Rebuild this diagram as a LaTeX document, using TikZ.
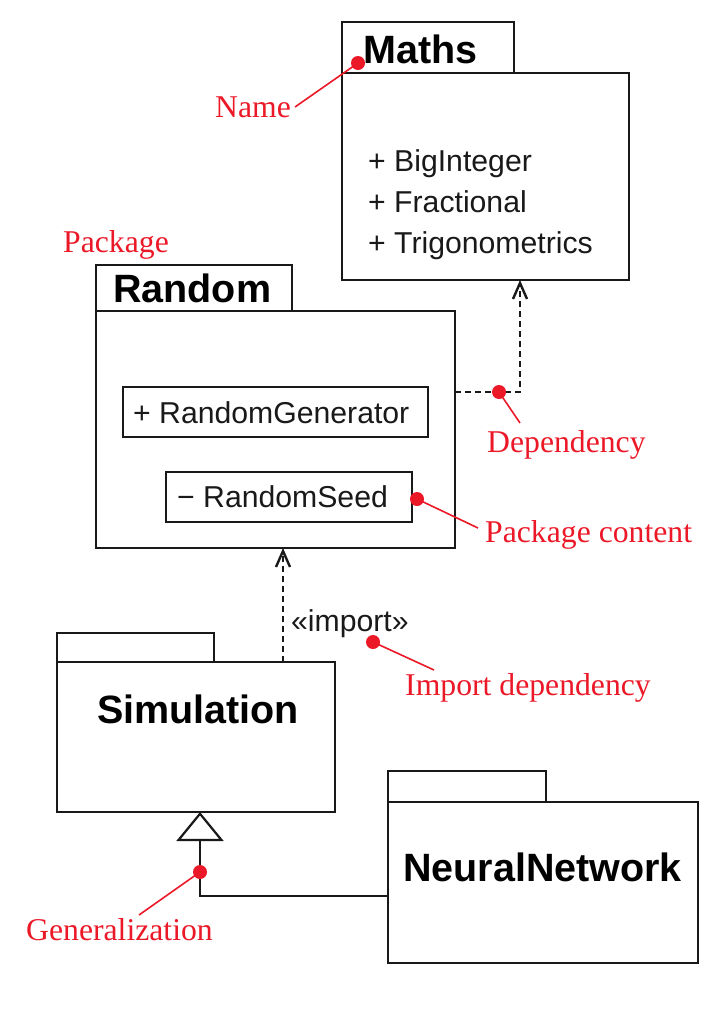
\documentclass[tikz,border=0pt]{standalone}
\usepackage{fontspec}
\setmainfont{Liberation Serif}
\setsansfont{Liberation Sans}
\usetikzlibrary{arrows.meta}
\definecolor{annot}{RGB}{235,25,40}
\definecolor{ink}{RGB}{25,25,25}
\tikzset{
  box/.style={draw=ink, line width=2.2pt, inner sep=0pt, outer sep=0pt, anchor=north west},
  title/.style={font=\sffamily\bfseries\fontsize{39.5}{41}\selectfont, inner sep=0pt, anchor=base west},
  item/.style={font=\sffamily\fontsize{30.2}{32}\selectfont, inner sep=0pt, anchor=base west, text=ink},
  note/.style={text=annot, font=\fontsize{31.7}{34}\selectfont, inner sep=0pt, anchor=base west},
  dot/.style={circle, fill=annot, minimum size=14pt, inner sep=0pt},
  pointer/.style={draw=annot, line width=1.6pt},
  dep/.style={draw=ink, line width=2.2pt, dash pattern=on 6pt off 4pt,
    -{Straight Barb[length=16pt,width=14pt,line width=2.4pt]}},
  gen/.style={draw=ink, line width=2.2pt,
    -{Triangle[open, fill=white, length=29pt, width=47pt, line width=2.2pt]}}
}
\begin{document}
\begin{tikzpicture}[x=1pt,y=-1pt]
\useasboundingbox (0,0) rectangle (722,1020);

% Maths package
\node[box, minimum width=172pt, minimum height=51pt] (mathstab) at (342,22) {};
\node[box, minimum width=287pt, minimum height=207pt] (mathsbody) at (342,73) {};
\node[title] (mathstitle) at (363,63) {Maths};
\node[item] (bigint) at (368,171) {+ BigInteger};
\node[item] (fract) at (368,212) {+ Fractional};
\node[item] (trig) at (368,253) {+ Trigonometrics};

% Random package
\node[box, minimum width=196pt, minimum height=46pt] (randomtab) at (96,265) {};
\node[box, minimum width=359pt, minimum height=237pt] (randombody) at (96,311) {};
\node[title] (randomtitle) at (113,302) {Random};
\node[box, minimum width=305pt, minimum height=50pt] (rgbox) at (123,387) {};
\node[item] (rgtext) at (133,423) {+ RandomGenerator};
\node[box, minimum width=246pt, minimum height=50pt] (rsbox) at (166,472) {};
\node[item] (rstext) at (177,507) {\textminus\ RandomSeed};

% Simulation package
\node[box, minimum width=157pt, minimum height=29pt] (simtab) at (57,633) {};
\node[box, minimum width=278pt, minimum height=150pt] (simbody) at (57,662) {};
\node[title] (simtitle) at (97,723) {Simulation};

% NeuralNetwork package
\node[box, minimum width=158pt, minimum height=31pt] (nntab) at (388,771) {};
\node[box, minimum width=310pt, minimum height=161pt] (nnbody) at (388,802) {};
\node[title] (nntitle) at (403,881) {NeuralNetwork};

% Dependency Random -> Maths
\coordinate (depbend) at (520,392);
\draw[dep] (randombody.east |- depbend) -- (depbend) -- (mathsbody.south -| depbend);

% Import dependency Simulation -> Random
\coordinate (impx) at (283,600);
\draw[dep] (simbody.north -| impx) -- (randombody.south -| impx);
\node[item] (importlbl) at (291,631) {«import»};

% Generalization NeuralNetwork -> Simulation
\coordinate (genbend) at (200,896);
\draw[gen] (nnbody.west |- genbend) -- (genbend) -- (simbody.south -| genbend);

% Annotations
\node[note] (namelbl) at (215,117) {Name};
\node[note] (pkglbl) at (63,252) {Package};
\node[note] (deplbl) at (487,452) {Dependency};
\node[note] (contentlbl) at (485,542) {Package content};
\node[note] (implbl) at (405,695) {Import dependency};
\node[note] (genlbl) at (26,940) {Generalization};

\coordinate (nameend) at (295,107);
\coordinate (depend) at (520,423);
\coordinate (contentend) at (478,528);
\coordinate (impend) at (434,670);
\coordinate (genend) at (139,915);

\node[dot] (namedot) at (358,63) {};
\node[dot] (depdot) at (499,392) {};
\node[dot] (contentdot) at (417,499) {};
\node[dot] (impdot) at (373,642) {};
\node[dot] (gendot) at (200,872) {};

\draw[pointer] (namedot.center) -- (nameend);
\draw[pointer] (depdot.center) -- (depend);
\draw[pointer] (contentdot.center) -- (contentend);
\draw[pointer] (impdot.center) -- (impend);
\draw[pointer] (gendot.center) -- (genend);
\end{tikzpicture}
\end{document}
